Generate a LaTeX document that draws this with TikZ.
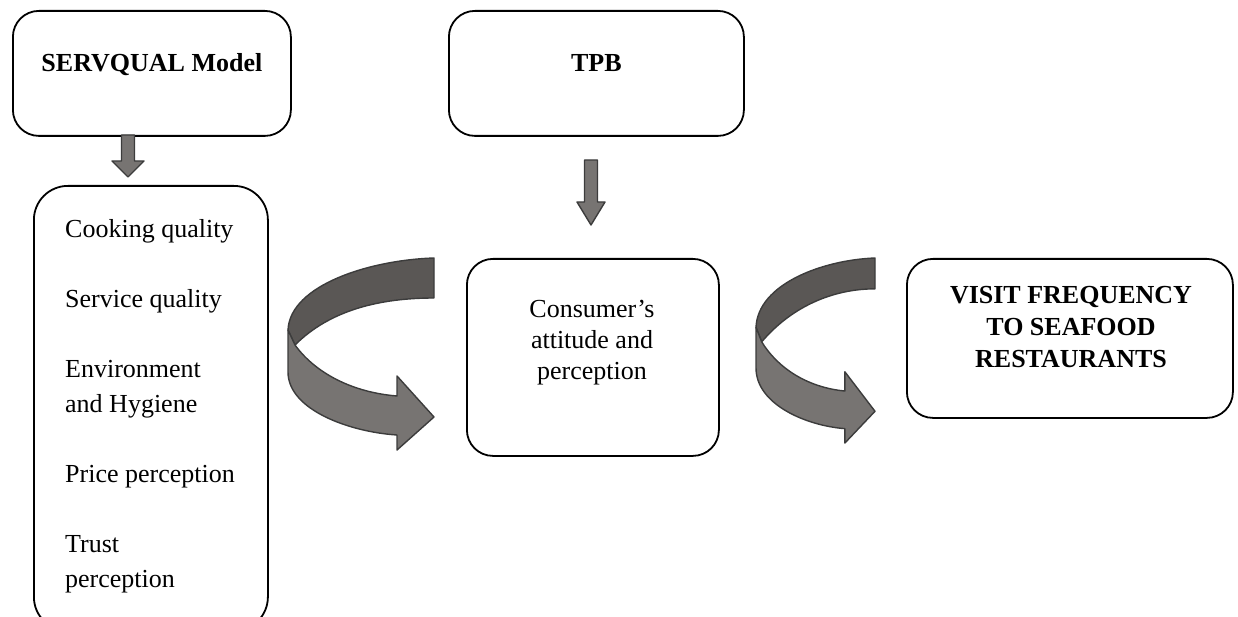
\documentclass[tikz,border=0pt]{standalone}
\usepackage{fontspec}
\setmainfont{Liberation Serif}
\usetikzlibrary{positioning}
\definecolor{bandback}{HTML}{5A5755}
\definecolor{bandfront}{HTML}{777472}
\definecolor{bandedge}{HTML}{3C3C3C}

\begin{document}
\begin{tikzpicture}[x=1pt, y=-1pt,
    box/.style={draw, line width=1.8pt, rounded corners=26pt, inner sep=0pt},
    txt/.style={inner sep=0pt, align=center, font=\fontsize{26}{32}\selectfont},
    band/.style={draw=bandedge, line width=1.4pt, line join=round},
    pics/bendarrow/.style={code={
      % back of the band
      \filldraw[band, fill=bandback] (146,0) .. controls (82,2) and (2,27) .. (0,72) -- (7,87) .. controls (42,52) and (92,#1) .. (146,#1) -- cycle;
      % front of the band with its head
      \filldraw[band, fill=bandfront] (0,72) -- (0,114) .. controls (0,152) and (62,174) .. (109,177) -- (109,192) -- (146,159) -- (109,118) -- (109,138) .. controls (60,134) and (25,112) .. (7,87) -- cycle;
    }}]
    \useasboundingbox (0,0) rectangle (1238,617);

    % Boxes
    \node[box, minimum width=278, minimum height=125, anchor=north west] (servqual) at (12,10) {};
    \node[box, minimum width=295, minimum height=125, anchor=north west] (tpb) at (448,10) {};
    \node[box, rounded corners=34pt, minimum width=234, minimum height=445, anchor=north west] (factors) at (33,185) {};
    \node[box, minimum width=252, minimum height=197, anchor=north west] (attitude) at (466,258) {};
    \node[box, minimum width=326, minimum height=159, anchor=north west] (visit) at (906,258) {};

    % Texts
    \node[txt, anchor=base] (servqualtitle) at ([yshift=-62pt]servqual.north) {\textbf{SERVQUAL Model}};
    \node[txt, anchor=base] (tpbtitle) at ([yshift=-62pt]tpb.north) {\textbf{TPB}};
    \node[txt, anchor=north west, align=left, font=\fontsize{26}{35}\selectfont] (factorlist) at (65,213)
      {\strut Cooking quality\\[35pt] Service quality\\[35pt] Environment\\ and Hygiene\\[35pt] Price perception\\[35pt] Trust\\ perception};
    \node[txt, anchor=north, font=\fontsize{26}{31}\selectfont] (attitudetext) at (592,296)
      {\strut Consumer’s\\ attitude and\\ perception};
    \node[txt, anchor=north, font=\fontsize{26}{32}\selectfont\bfseries] (visittext) at (1071,281)
      {\strut VISIT FREQUENCY\\ TO SEAFOOD\\ RESTAURANTS};

    % Down arrows
    \filldraw[band, fill=bandfront] (121.5,135) -- (121.5,161) -- (112,161) -- (128,177) -- (144,161) -- (134.5,161) -- (134.5,135) -- cycle;
    \filldraw[band, fill=bandfront] (584.5,160) -- (584.5,202) -- (577,202) -- (591,225) -- (605,202) -- (597.5,202) -- (597.5,160) -- cycle;

    % Curved arrows
    \pic at (288,258) {bendarrow=40};
    \pic[xscale=0.815, yscale=0.964] at (756,258) {bendarrow=32};
\end{tikzpicture}
\end{document}
